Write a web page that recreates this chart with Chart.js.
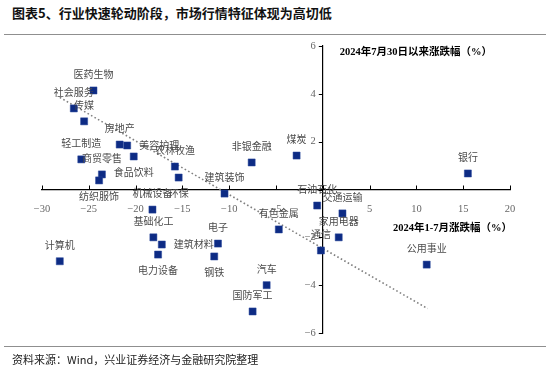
<!DOCTYPE html>
<html>
<head>
<meta charset="utf-8">
<script src="https://cdn.jsdelivr.net/npm/chart.js@4.4.1/dist/chart.umd.min.js"></script>
<style>
  body { margin: 0; background: #fff; }
  #wrap { position: relative; width: 550px; height: 374px; overflow: hidden; font-family: "Noto Sans CJK SC", sans-serif; }
  #title { position: absolute; left: 12px; top: 3px; font-size: 13px; font-weight: bold; color: #111; white-space: nowrap; }
  .rule { position: absolute; left: 4px; right: 4px; height: 0; border-top: 1.5px solid #8f8f8f; }
  #foot { position: absolute; left: 12px; top: 351px; font-size: 11px; color: #222; white-space: nowrap; }
  canvas { position: absolute; left: 0; top: 0; }
</style>
</head>
<body>
<div id="wrap">
  <div id="title">图表5、行业快速轮动阶段，市场行情特征体现为高切低</div>
  <div class="rule" style="top:34px"></div>
  <canvas id="chart" width="550" height="374"></canvas>
  <div class="rule" style="top:346px"></div>
  <div id="foot">资料来源：Wind，兴业证券经济与金融研究院整理</div>
</div>
<script>
// 申万一级行业：2024年1-7月涨跌幅（x）与7月30日以来涨跌幅（y），单位 %
const names = ['医药生物', '社会服务', '传媒', '房地产', '美容护理', '食品饮料', '轻工制造', '商贸零售',
    '纺织服饰', '农林牧渔', '环保', '建筑装饰', '非银金融', '煤炭', '银行', '石油石化', '交通运输',
    '有色金属', '家用电器', '通信', '机械设备', '基础化工', '建筑材料', '电力设备', '电子', '钢铁',
    '汽车', '国防军工', '计算机', '公用事业'];
const ytdChange = [-24.5, -26.6, -25.5, -21.7, -20.9, -20.2, -25.8, -23.6,
    -23.9, -15.8, -15.4, -10.5, -7.6, -2.8, 15.5, -0.6, 2.1,
    -4.7, 1.7, -0.2, -18.2, -18.1, -17.2, -17.6, -11.2, -11.6,
    -6.0, -7.5, -28.1, 11.1];
const sinceJul30 = [4.14, 3.39, 2.85, 1.88, 1.84, 1.38, 1.26, 0.63,
    0.38, 0.96, 0.50, -0.17, 1.13, 1.42, 0.67, -0.67, -1.00,
    -1.67, -2.00, -2.55, -0.84, -2.00, -2.30, -2.72, -2.26, -2.80,
    -4.00, -5.10, -3.00, -3.14];
const trendX = [-28.1, 11.2];
const trendY = [3.85, -4.98];
const xTicks = [-30, -25, -20, -15, -10, -5, 0, 5, 10, 15, 20];
const yTicks = [-6, -4, -2, 0, 2, 4, 6];
const xTitle = '2024年1-7月涨跌幅（%）';
const yTitle = '2024年7月30日以来涨跌幅（%）';

// where each name sits relative to its marker
const labelPos = ['up', 'up', 'up', 'up', 'right', 'down', 'up', 'up',
    'down', 'up', 'down', 'up', 'up', 'up', 'up', 'up', 'up',
    'up', 'up', 'up', 'up', 'up', 'right', 'down', 'up', 'down',
    'up', 'up', 'up', 'up'];

const tickFont = { family: '"Liberation Serif", "Times New Roman", serif', size: 10.5 };

const pointLabels = {
    id: 'pointLabels',
    afterDatasetsDraw(chart) {
        const { ctx } = chart;
        const meta = chart.getDatasetMeta(1);
        ctx.save();
        ctx.font = '10px "Noto Sans CJK SC"';
        ctx.fillStyle = '#4a4a4a';
        ctx.textBaseline = 'middle';
        meta.data.forEach((pt, i) => {
            const pos = labelPos[i];
            if (pos === 'right') {
                ctx.textAlign = 'left';
                ctx.fillText(names[i], pt.x + 12, pt.y);
            } else {
                ctx.textAlign = 'center';
                ctx.fillText(names[i], pt.x, pt.y + (pos === 'up' ? -16 : 16));
            }
        });
        ctx.restore();
    }
};

// tick marks point inward, y labels sit left of the crossing axis
const axisExtras = {
    id: 'axisExtras',
    afterDraw(chart) {
        const { ctx, chartArea, scales: { x, y } } = chart;
        const x0 = x.getPixelForValue(0);
        const y0 = y.getPixelForValue(0);
        ctx.save();
        ctx.strokeStyle = '#000';
        ctx.lineWidth = 1;
        ctx.beginPath();
        xTicks.forEach((v) => {
            const px = Math.round(x.getPixelForValue(v)) + 0.5;
            ctx.moveTo(px, y0);
            ctx.lineTo(px, y0 - 4);
        });
        yTicks.forEach((v) => {
            const py = Math.round(y.getPixelForValue(v)) + 0.5;
            ctx.moveTo(x0, py);
            ctx.lineTo(x0 - 4, py);
        });
        ctx.stroke();

        ctx.fillStyle = '#666';
        ctx.font = '10.5px "Liberation Serif", "Times New Roman", serif';
        ctx.textAlign = 'right';
        ctx.textBaseline = 'middle';
        yTicks.forEach((v) => {
            if (v !== 0) ctx.fillText(v < 0 ? '−' + Math.abs(v) : String(v), x0 - 7, y.getPixelForValue(v));
        });

        ctx.fillStyle = '#000';
        ctx.font = 'bold 10.5px "Liberation Serif", "Noto Sans CJK SC"';
        ctx.textAlign = 'left';
        ctx.fillText(yTitle, x0 + 17, chartArea.top + 6);
        ctx.textAlign = 'right';
        ctx.fillText(xTitle, chartArea.right + 2, y0 + 39);
        ctx.restore();
    }
};

new Chart(document.getElementById('chart').getContext('2d'), {
    type: 'scatter',
    data: {
        datasets: [
            {
                type: 'line',
                data: trendX.map((v, i) => ({ x: v, y: trendY[i] })),
                borderColor: '#808080',
                borderWidth: 1.6,
                borderDash: [1.6, 2.4],
                pointRadius: 0,
                fill: false,
                order: 2,
            },
            {
                data: names.map((n, i) => ({ x: ytdChange[i], y: sinceJul30[i] })),
                pointStyle: 'rect',
                pointRadius: 5,
                backgroundColor: '#0d2b84',
                borderColor: '#29479a',
                borderWidth: 0.5,
                order: 1,
            },
        ],
    },
    options: {
        responsive: false,
        animation: false,
        layout: { padding: { left: 42, right: 40, top: 46, bottom: 41 } },
        plugins: {
            legend: { display: false },
            tooltip: { enabled: false },
        },
        scales: {
            x: {
                type: 'linear',
                position: { y: 0 },
                min: -30,
                max: 20,
                afterBuildTicks: (s) => { s.ticks = xTicks.map((v) => ({ value: v })); },
                grid: { display: false },
                border: { color: '#000', width: 1.2 },
                ticks: {
                    color: '#666',
                    font: tickFont,
                    padding: 5,
                    maxRotation: 0,
                    callback: (v) => (v === 0 ? '' : (v < 0 ? '−' + Math.abs(v) : v)),
                },
            },
            y: {
                type: 'linear',
                position: { x: 0 },
                min: -6,
                max: 6,
                afterBuildTicks: (s) => { s.ticks = yTicks.map((v) => ({ value: v })); },
                grid: { display: false },
                border: { color: '#000', width: 1.2 },
                ticks: { display: false },
            },
        },
    },
    plugins: [pointLabels, axisExtras],
});
</script>
</body>
</html>
